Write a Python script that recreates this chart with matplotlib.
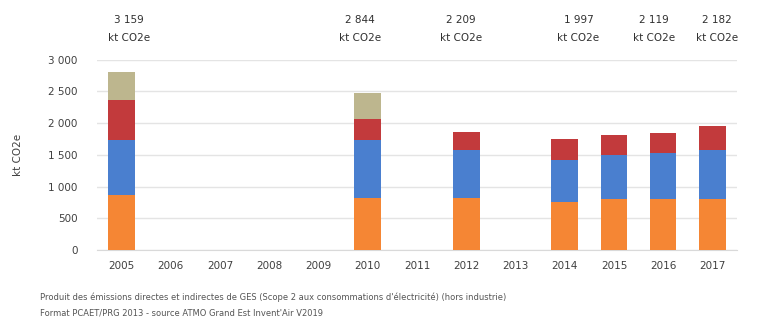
import numpy as np
import matplotlib.pyplot as plt

# émissions par poste (kt CO2e)
annees = ['2005', '2006', '2007', '2008', '2009', '2010', '2011',
          '2012', '2013', '2014', '2015', '2016', '2017']
orange = [870, 0, 0, 0, 0, 820, 0, 820, 0, 760, 800, 800, 800]
bleu   = [870, 0, 0, 0, 0, 915, 0, 760, 0, 660, 700, 730, 780]
rouge  = [630, 0, 0, 0, 0, 330, 0, 280, 0, 330, 310, 320, 370]
beige  = [440, 0, 0, 0, 0, 415, 0, 0, 0, 0, 0, 0, 0]

# totaux affichés au-dessus du graphique
totaux_annees = ['2005', '2010', '2012', '2014', '2016', '2017']
totaux = ['3 159', '2 844', '2 209', '1 997', '2 119', '2 182']
decalage = [0.15, -0.15, -0.1, 0.28, -0.18, 0.1]

fig = plt.figure(figsize=(7.63, 3.25), dpi=100)
ax = fig.add_axes([0.127, 0.231, 0.839, 0.585])

x = np.arange(len(annees))
w = 0.54
bas = np.zeros(len(annees))
for vals, col in [(orange, '#f58634'), (bleu, '#4a7fcf'),
                  (rouge, '#c23a3c'), (beige, '#bdb68e')]:
    ax.bar(x, vals, w, bottom=bas, color=col, zorder=3)
    bas += np.array(vals)

ax.set_xlim(-0.5, 12.5)
ax.set_ylim(0, 3000)
ax.set_yticks(np.arange(0, 3001, 500))
ax.set_yticklabels(['0', '500', '1 000', '1 500', '2 000', '2 500', '3 000'])
ax.set_xticks(x)
ax.set_xticklabels(annees)
ax.tick_params(labelsize=7.5, colors='#404040', length=0, pad=8)
ax.tick_params(axis='y', pad=14)
ax.grid(axis='y', color='#e4e4e4', lw=1, zorder=0)
for s in ['top', 'right', 'left']:
    ax.spines[s].set_visible(False)
ax.spines['bottom'].set_color('#d9d9d9')
ax.set_ylabel('kt CO2e', fontsize=7.5, color='#404040', labelpad=18)

for a, t, d in zip(totaux_annees, totaux, decalage):
    xi = annees.index(a) + d
    ax.text(xi, 3480, t + '\nkt CO2e', ha='center', va='center',
            fontsize=7.5, color='#303030', linespacing=2.0, clip_on=False)

fig.text(0.052, 0.078, "Produit des émissions directes et indirectes de GES (Scope 2 aux consommations d'électricité) (hors industrie)",
         fontsize=6, color='#555555')
fig.text(0.052, 0.03, "Format PCAET/PRG 2013 - source ATMO Grand Est Invent'Air V2019",
         fontsize=6, color='#555555')

fig.savefig('out.png', dpi=100)
